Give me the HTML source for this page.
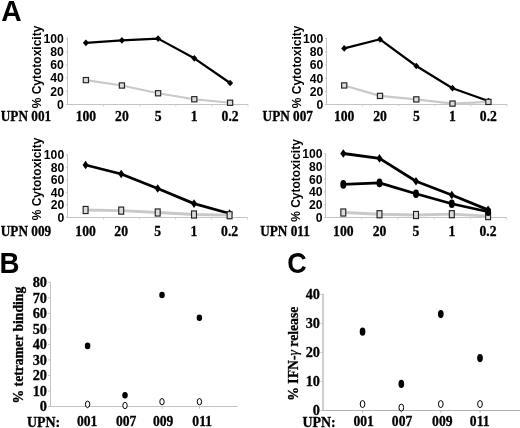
<!DOCTYPE html>
<html><head><meta charset="utf-8"><style>
html,body{margin:0;padding:0;background:#fff;}
svg{display:block;will-change:transform;filter:blur(0.3px);}
</style></head><body>
<svg width="520" height="428" viewBox="0 0 520 428">
<rect width="520" height="428" fill="#fff"/>
<text x="1.1" y="20.7" font-family='"Liberation Sans", sans-serif' font-weight="bold" font-size="29" transform="translate(11.4,0) scale(0.975,1) translate(-11.4,0)">A</text>
<text x="-1.0" y="272.9" font-family='"Liberation Sans", sans-serif' font-weight="bold" font-size="28.8" transform="translate(9.5,0) scale(0.96,1) translate(-9.5,0)">B</text>
<text x="286.4" y="273" font-family='"Liberation Sans", sans-serif' font-weight="bold" font-size="29" transform="translate(297,0) scale(0.93,1) translate(-297,0)">C</text>
<line x1="67.5" y1="37.5" x2="67.5" y2="104.5" stroke="#c4c4c4" stroke-width="1"/>
<line x1="67.5" y1="104.5" x2="248" y2="104.5" stroke="#c4c4c4" stroke-width="1"/>
<line x1="103.60" y1="104.5" x2="103.60" y2="106.5" stroke="#d0d0d0" stroke-width="1"/>
<line x1="139.70" y1="104.5" x2="139.70" y2="106.5" stroke="#d0d0d0" stroke-width="1"/>
<line x1="175.80" y1="104.5" x2="175.80" y2="106.5" stroke="#d0d0d0" stroke-width="1"/>
<line x1="211.90" y1="104.5" x2="211.90" y2="106.5" stroke="#d0d0d0" stroke-width="1"/>
<line x1="248.00" y1="104.5" x2="248.00" y2="106.5" stroke="#d0d0d0" stroke-width="1"/>
<line x1="66.0" y1="104.40" x2="67.5" y2="104.40" stroke="#c4c4c4" stroke-width="1"/>
<text x="63.9" y="108.75" text-anchor="end" font-family='"Liberation Sans", sans-serif' font-weight="bold" font-size="12.2">0</text>
<line x1="66.0" y1="91.25" x2="67.5" y2="91.25" stroke="#c4c4c4" stroke-width="1"/>
<text x="63.9" y="95.60" text-anchor="end" font-family='"Liberation Sans", sans-serif' font-weight="bold" font-size="12.2">20</text>
<line x1="66.0" y1="78.10" x2="67.5" y2="78.10" stroke="#c4c4c4" stroke-width="1"/>
<text x="63.9" y="82.45" text-anchor="end" font-family='"Liberation Sans", sans-serif' font-weight="bold" font-size="12.2">40</text>
<line x1="66.0" y1="64.95" x2="67.5" y2="64.95" stroke="#c4c4c4" stroke-width="1"/>
<text x="63.9" y="69.30" text-anchor="end" font-family='"Liberation Sans", sans-serif' font-weight="bold" font-size="12.2">60</text>
<line x1="66.0" y1="51.80" x2="67.5" y2="51.80" stroke="#c4c4c4" stroke-width="1"/>
<text x="63.9" y="56.15" text-anchor="end" font-family='"Liberation Sans", sans-serif' font-weight="bold" font-size="12.2">80</text>
<line x1="66.0" y1="38.65" x2="67.5" y2="38.65" stroke="#c4c4c4" stroke-width="1"/>
<text x="63.9" y="43.00" text-anchor="end" font-family='"Liberation Sans", sans-serif' font-weight="bold" font-size="12.2">100</text>
<text transform="translate(41.3,67) rotate(-90)" text-anchor="middle" font-family='"Liberation Sans", sans-serif' font-weight="bold" font-size="12">% Cytotoxicity</text>
<text x="85.90" y="121.2" text-anchor="middle" font-family='"Liberation Serif", serif' font-weight="bold" stroke="#000" stroke-width="0.3" font-size="14.4" transform="translate(85.90,0) scale(0.95,1) translate(-85.90,0)">100</text>
<text x="121.90" y="121.2" text-anchor="middle" font-family='"Liberation Serif", serif' font-weight="bold" stroke="#000" stroke-width="0.3" font-size="14.4" transform="translate(121.90,0) scale(0.95,1) translate(-121.90,0)">20</text>
<text x="158.10" y="121.2" text-anchor="middle" font-family='"Liberation Serif", serif' font-weight="bold" stroke="#000" stroke-width="0.3" font-size="14.4" transform="translate(158.10,0) scale(0.95,1) translate(-158.10,0)">5</text>
<text x="194.30" y="121.2" text-anchor="middle" font-family='"Liberation Serif", serif' font-weight="bold" stroke="#000" stroke-width="0.3" font-size="14.4" transform="translate(194.30,0) scale(0.95,1) translate(-194.30,0)">1</text>
<text x="230.10" y="121.2" text-anchor="middle" font-family='"Liberation Serif", serif' font-weight="bold" stroke="#000" stroke-width="0.3" font-size="14.4" transform="translate(230.10,0) scale(0.95,1) translate(-230.10,0)">0.2</text>
<text x="0.8" y="121.2" font-family='"Liberation Serif", serif' font-weight="bold" stroke="#000" stroke-width="0.3" font-size="14.4" transform="translate(0.8,0) scale(0.92,1) translate(-0.8,0)">UPN 001</text>
<polyline points="85.90,42.80 121.90,40.30 158.10,38.60 194.30,58.30 230.10,83.00" fill="none" stroke="#000" stroke-width="2.2" stroke-linejoin="round"/>
<path d="M85.90 39.45 L88.90 42.80 L85.90 46.15 L82.90 42.80Z" fill="#000"/>
<path d="M121.90 36.95 L124.90 40.30 L121.90 43.65 L118.90 40.30Z" fill="#000"/>
<path d="M158.10 35.25 L161.10 38.60 L158.10 41.95 L155.10 38.60Z" fill="#000"/>
<path d="M194.30 54.95 L197.30 58.30 L194.30 61.65 L191.30 58.30Z" fill="#000"/>
<path d="M230.10 79.65 L233.10 83.00 L230.10 86.35 L227.10 83.00Z" fill="#000"/>
<polyline points="85.90,80.10 121.90,85.50 158.10,93.25 194.30,99.25 230.10,102.75" fill="none" stroke="#c9c9c9" stroke-width="2.2" stroke-linejoin="round"/>
<rect x="83.30" y="77.50" width="5.20" height="5.20" fill="#dcdcdc" stroke="#222" stroke-width="1.15"/>
<rect x="119.30" y="82.90" width="5.20" height="5.20" fill="#dcdcdc" stroke="#222" stroke-width="1.15"/>
<rect x="155.50" y="90.65" width="5.20" height="5.20" fill="#dcdcdc" stroke="#222" stroke-width="1.15"/>
<rect x="191.70" y="96.65" width="5.20" height="5.20" fill="#dcdcdc" stroke="#222" stroke-width="1.15"/>
<rect x="227.50" y="100.15" width="5.20" height="5.20" fill="#dcdcdc" stroke="#222" stroke-width="1.15"/>
<line x1="326.5" y1="37.9" x2="326.5" y2="104.5" stroke="#c4c4c4" stroke-width="1"/>
<line x1="326.5" y1="104.5" x2="507" y2="104.5" stroke="#c4c4c4" stroke-width="1"/>
<line x1="362.60" y1="104.5" x2="362.60" y2="106.5" stroke="#d0d0d0" stroke-width="1"/>
<line x1="398.70" y1="104.5" x2="398.70" y2="106.5" stroke="#d0d0d0" stroke-width="1"/>
<line x1="434.80" y1="104.5" x2="434.80" y2="106.5" stroke="#d0d0d0" stroke-width="1"/>
<line x1="470.90" y1="104.5" x2="470.90" y2="106.5" stroke="#d0d0d0" stroke-width="1"/>
<line x1="507.00" y1="104.5" x2="507.00" y2="106.5" stroke="#d0d0d0" stroke-width="1"/>
<line x1="325.0" y1="104.60" x2="326.5" y2="104.60" stroke="#c4c4c4" stroke-width="1"/>
<text x="323.3" y="108.95" text-anchor="end" font-family='"Liberation Sans", sans-serif' font-weight="bold" font-size="12.2">0</text>
<line x1="325.0" y1="91.40" x2="326.5" y2="91.40" stroke="#c4c4c4" stroke-width="1"/>
<text x="323.3" y="95.75" text-anchor="end" font-family='"Liberation Sans", sans-serif' font-weight="bold" font-size="12.2">20</text>
<line x1="325.0" y1="78.20" x2="326.5" y2="78.20" stroke="#c4c4c4" stroke-width="1"/>
<text x="323.3" y="82.55" text-anchor="end" font-family='"Liberation Sans", sans-serif' font-weight="bold" font-size="12.2">40</text>
<line x1="325.0" y1="65.00" x2="326.5" y2="65.00" stroke="#c4c4c4" stroke-width="1"/>
<text x="323.3" y="69.35" text-anchor="end" font-family='"Liberation Sans", sans-serif' font-weight="bold" font-size="12.2">60</text>
<line x1="325.0" y1="51.80" x2="326.5" y2="51.80" stroke="#c4c4c4" stroke-width="1"/>
<text x="323.3" y="56.15" text-anchor="end" font-family='"Liberation Sans", sans-serif' font-weight="bold" font-size="12.2">80</text>
<line x1="325.0" y1="38.60" x2="326.5" y2="38.60" stroke="#c4c4c4" stroke-width="1"/>
<text x="323.3" y="42.95" text-anchor="end" font-family='"Liberation Sans", sans-serif' font-weight="bold" font-size="12.2">100</text>
<text transform="translate(300.5,66.9) rotate(-90)" text-anchor="middle" font-family='"Liberation Sans", sans-serif' font-weight="bold" font-size="12">% Cytotoxicity</text>
<text x="344.20" y="121.2" text-anchor="middle" font-family='"Liberation Serif", serif' font-weight="bold" stroke="#000" stroke-width="0.3" font-size="14.4" transform="translate(344.20,0) scale(0.95,1) translate(-344.20,0)">100</text>
<text x="380.00" y="121.2" text-anchor="middle" font-family='"Liberation Serif", serif' font-weight="bold" stroke="#000" stroke-width="0.3" font-size="14.4" transform="translate(380.00,0) scale(0.95,1) translate(-380.00,0)">20</text>
<text x="416.30" y="121.2" text-anchor="middle" font-family='"Liberation Serif", serif' font-weight="bold" stroke="#000" stroke-width="0.3" font-size="14.4" transform="translate(416.30,0) scale(0.95,1) translate(-416.30,0)">5</text>
<text x="452.50" y="121.2" text-anchor="middle" font-family='"Liberation Serif", serif' font-weight="bold" stroke="#000" stroke-width="0.3" font-size="14.4" transform="translate(452.50,0) scale(0.95,1) translate(-452.50,0)">1</text>
<text x="488.40" y="121.2" text-anchor="middle" font-family='"Liberation Serif", serif' font-weight="bold" stroke="#000" stroke-width="0.3" font-size="14.4" transform="translate(488.40,0) scale(0.95,1) translate(-488.40,0)">0.2</text>
<text x="262.6" y="121.2" font-family='"Liberation Serif", serif' font-weight="bold" stroke="#000" stroke-width="0.3" font-size="14.4" transform="translate(262.6,0) scale(0.92,1) translate(-262.6,0)">UPN 007</text>
<polyline points="344.20,48.40 380.00,39.30 416.30,66.00 452.50,88.20 488.40,101.00" fill="none" stroke="#000" stroke-width="2.2" stroke-linejoin="round"/>
<path d="M344.20 45.05 L347.20 48.40 L344.20 51.75 L341.20 48.40Z" fill="#000"/>
<path d="M380.00 35.95 L383.00 39.30 L380.00 42.65 L377.00 39.30Z" fill="#000"/>
<path d="M416.30 62.65 L419.30 66.00 L416.30 69.35 L413.30 66.00Z" fill="#000"/>
<path d="M452.50 84.85 L455.50 88.20 L452.50 91.55 L449.50 88.20Z" fill="#000"/>
<path d="M488.40 97.65 L491.40 101.00 L488.40 104.35 L485.40 101.00Z" fill="#000"/>
<polyline points="344.20,85.45 380.00,95.90 416.30,99.40 452.50,103.60 488.40,101.90" fill="none" stroke="#c9c9c9" stroke-width="2.2" stroke-linejoin="round"/>
<rect x="341.60" y="82.85" width="5.20" height="5.20" fill="#dcdcdc" stroke="#222" stroke-width="1.15"/>
<rect x="377.40" y="93.30" width="5.20" height="5.20" fill="#dcdcdc" stroke="#222" stroke-width="1.15"/>
<rect x="413.70" y="96.80" width="5.20" height="5.20" fill="#dcdcdc" stroke="#222" stroke-width="1.15"/>
<rect x="449.90" y="101.00" width="5.20" height="5.20" fill="#dcdcdc" stroke="#222" stroke-width="1.15"/>
<rect x="485.80" y="99.30" width="5.20" height="5.20" fill="#dcdcdc" stroke="#222" stroke-width="1.15"/>
<line x1="67.5" y1="154.4" x2="67.5" y2="217.5" stroke="#c4c4c4" stroke-width="1"/>
<line x1="67.5" y1="217.5" x2="247.5" y2="217.5" stroke="#c4c4c4" stroke-width="1"/>
<line x1="103.50" y1="217.5" x2="103.50" y2="219.5" stroke="#d0d0d0" stroke-width="1"/>
<line x1="139.50" y1="217.5" x2="139.50" y2="219.5" stroke="#d0d0d0" stroke-width="1"/>
<line x1="175.50" y1="217.5" x2="175.50" y2="219.5" stroke="#d0d0d0" stroke-width="1"/>
<line x1="211.50" y1="217.5" x2="211.50" y2="219.5" stroke="#d0d0d0" stroke-width="1"/>
<line x1="247.50" y1="217.5" x2="247.50" y2="219.5" stroke="#d0d0d0" stroke-width="1"/>
<line x1="66.0" y1="217.30" x2="67.5" y2="217.30" stroke="#c4c4c4" stroke-width="1"/>
<text x="64.2" y="221.65" text-anchor="end" font-family='"Liberation Sans", sans-serif' font-weight="bold" font-size="12.2">0</text>
<line x1="66.0" y1="204.82" x2="67.5" y2="204.82" stroke="#c4c4c4" stroke-width="1"/>
<text x="64.2" y="209.17" text-anchor="end" font-family='"Liberation Sans", sans-serif' font-weight="bold" font-size="12.2">20</text>
<line x1="66.0" y1="192.34" x2="67.5" y2="192.34" stroke="#c4c4c4" stroke-width="1"/>
<text x="64.2" y="196.69" text-anchor="end" font-family='"Liberation Sans", sans-serif' font-weight="bold" font-size="12.2">40</text>
<line x1="66.0" y1="179.86" x2="67.5" y2="179.86" stroke="#c4c4c4" stroke-width="1"/>
<text x="64.2" y="184.21" text-anchor="end" font-family='"Liberation Sans", sans-serif' font-weight="bold" font-size="12.2">60</text>
<line x1="66.0" y1="167.38" x2="67.5" y2="167.38" stroke="#c4c4c4" stroke-width="1"/>
<text x="64.2" y="171.73" text-anchor="end" font-family='"Liberation Sans", sans-serif' font-weight="bold" font-size="12.2">80</text>
<line x1="66.0" y1="154.90" x2="67.5" y2="154.90" stroke="#c4c4c4" stroke-width="1"/>
<text x="64.2" y="159.25" text-anchor="end" font-family='"Liberation Sans", sans-serif' font-weight="bold" font-size="12.2">100</text>
<text transform="translate(40.8,179) rotate(-90)" text-anchor="middle" font-family='"Liberation Sans", sans-serif' font-weight="bold" font-size="12">% Cytotoxicity</text>
<text x="85.60" y="236.2" text-anchor="middle" font-family='"Liberation Serif", serif' font-weight="bold" stroke="#000" stroke-width="0.3" font-size="14.4" transform="translate(85.60,0) scale(0.95,1) translate(-85.60,0)">100</text>
<text x="121.20" y="236.2" text-anchor="middle" font-family='"Liberation Serif", serif' font-weight="bold" stroke="#000" stroke-width="0.3" font-size="14.4" transform="translate(121.20,0) scale(0.95,1) translate(-121.20,0)">20</text>
<text x="157.70" y="236.2" text-anchor="middle" font-family='"Liberation Serif", serif' font-weight="bold" stroke="#000" stroke-width="0.3" font-size="14.4" transform="translate(157.70,0) scale(0.95,1) translate(-157.70,0)">5</text>
<text x="194.00" y="236.2" text-anchor="middle" font-family='"Liberation Serif", serif' font-weight="bold" stroke="#000" stroke-width="0.3" font-size="14.4" transform="translate(194.00,0) scale(0.95,1) translate(-194.00,0)">1</text>
<text x="229.60" y="236.2" text-anchor="middle" font-family='"Liberation Serif", serif' font-weight="bold" stroke="#000" stroke-width="0.3" font-size="14.4" transform="translate(229.60,0) scale(0.95,1) translate(-229.60,0)">0.2</text>
<text x="0.8" y="236.2" font-family='"Liberation Serif", serif' font-weight="bold" stroke="#000" stroke-width="0.3" font-size="14.4" transform="translate(0.8,0) scale(0.92,1) translate(-0.8,0)">UPN 009</text>
<polyline points="85.60,165.00 121.20,174.00 157.70,188.50 194.00,203.60 229.60,213.50" fill="none" stroke="#000" stroke-width="2.8" stroke-linejoin="round"/>
<path d="M85.60 160.70 L88.60 165.00 L85.60 169.30 L82.60 165.00Z" fill="#000"/>
<path d="M121.20 169.70 L124.20 174.00 L121.20 178.30 L118.20 174.00Z" fill="#000"/>
<path d="M157.70 184.20 L160.70 188.50 L157.70 192.80 L154.70 188.50Z" fill="#000"/>
<path d="M194.00 199.30 L197.00 203.60 L194.00 207.90 L191.00 203.60Z" fill="#000"/>
<path d="M229.60 209.20 L232.60 213.50 L229.60 217.80 L226.60 213.50Z" fill="#000"/>
<polyline points="85.60,210.00 121.20,210.60 157.70,212.50 194.00,214.50 229.60,215.20" fill="none" stroke="#c9c9c9" stroke-width="2.8" stroke-linejoin="round"/>
<rect x="83.15" y="206.45" width="4.90" height="7.10" fill="#dcdcdc" stroke="#222" stroke-width="1.15"/>
<rect x="118.75" y="207.05" width="4.90" height="7.10" fill="#dcdcdc" stroke="#222" stroke-width="1.15"/>
<rect x="155.25" y="208.95" width="4.90" height="7.10" fill="#dcdcdc" stroke="#222" stroke-width="1.15"/>
<rect x="191.55" y="210.95" width="4.90" height="7.10" fill="#dcdcdc" stroke="#222" stroke-width="1.15"/>
<rect x="227.15" y="211.65" width="4.90" height="7.10" fill="#dcdcdc" stroke="#222" stroke-width="1.15"/>
<line x1="325.5" y1="153.4" x2="325.5" y2="217.5" stroke="#c4c4c4" stroke-width="1"/>
<line x1="325.5" y1="217.5" x2="506.5" y2="217.5" stroke="#c4c4c4" stroke-width="1"/>
<line x1="361.70" y1="217.5" x2="361.70" y2="219.5" stroke="#d0d0d0" stroke-width="1"/>
<line x1="397.90" y1="217.5" x2="397.90" y2="219.5" stroke="#d0d0d0" stroke-width="1"/>
<line x1="434.10" y1="217.5" x2="434.10" y2="219.5" stroke="#d0d0d0" stroke-width="1"/>
<line x1="470.30" y1="217.5" x2="470.30" y2="219.5" stroke="#d0d0d0" stroke-width="1"/>
<line x1="506.50" y1="217.5" x2="506.50" y2="219.5" stroke="#d0d0d0" stroke-width="1"/>
<line x1="324.0" y1="217.60" x2="325.5" y2="217.60" stroke="#c4c4c4" stroke-width="1"/>
<text x="322.5" y="221.95" text-anchor="end" font-family='"Liberation Sans", sans-serif' font-weight="bold" font-size="12.2">0</text>
<line x1="324.0" y1="204.80" x2="325.5" y2="204.80" stroke="#c4c4c4" stroke-width="1"/>
<text x="322.5" y="209.15" text-anchor="end" font-family='"Liberation Sans", sans-serif' font-weight="bold" font-size="12.2">20</text>
<line x1="324.0" y1="192.00" x2="325.5" y2="192.00" stroke="#c4c4c4" stroke-width="1"/>
<text x="322.5" y="196.35" text-anchor="end" font-family='"Liberation Sans", sans-serif' font-weight="bold" font-size="12.2">40</text>
<line x1="324.0" y1="179.20" x2="325.5" y2="179.20" stroke="#c4c4c4" stroke-width="1"/>
<text x="322.5" y="183.55" text-anchor="end" font-family='"Liberation Sans", sans-serif' font-weight="bold" font-size="12.2">60</text>
<line x1="324.0" y1="166.40" x2="325.5" y2="166.40" stroke="#c4c4c4" stroke-width="1"/>
<text x="322.5" y="170.75" text-anchor="end" font-family='"Liberation Sans", sans-serif' font-weight="bold" font-size="12.2">80</text>
<line x1="324.0" y1="153.60" x2="325.5" y2="153.60" stroke="#c4c4c4" stroke-width="1"/>
<text x="322.5" y="157.95" text-anchor="end" font-family='"Liberation Sans", sans-serif' font-weight="bold" font-size="12.2">100</text>
<text transform="translate(300,180.5) rotate(-90)" text-anchor="middle" font-family='"Liberation Sans", sans-serif' font-weight="bold" font-size="12">% Cytotoxicity</text>
<text x="343.30" y="236.2" text-anchor="middle" font-family='"Liberation Serif", serif' font-weight="bold" stroke="#000" stroke-width="0.3" font-size="14.4" transform="translate(343.30,0) scale(0.95,1) translate(-343.30,0)">100</text>
<text x="379.50" y="236.2" text-anchor="middle" font-family='"Liberation Serif", serif' font-weight="bold" stroke="#000" stroke-width="0.3" font-size="14.4" transform="translate(379.50,0) scale(0.95,1) translate(-379.50,0)">20</text>
<text x="416.00" y="236.2" text-anchor="middle" font-family='"Liberation Serif", serif' font-weight="bold" stroke="#000" stroke-width="0.3" font-size="14.4" transform="translate(416.00,0) scale(0.95,1) translate(-416.00,0)">5</text>
<text x="451.80" y="236.2" text-anchor="middle" font-family='"Liberation Serif", serif' font-weight="bold" stroke="#000" stroke-width="0.3" font-size="14.4" transform="translate(451.80,0) scale(0.95,1) translate(-451.80,0)">1</text>
<text x="488.10" y="236.2" text-anchor="middle" font-family='"Liberation Serif", serif' font-weight="bold" stroke="#000" stroke-width="0.3" font-size="14.4" transform="translate(488.10,0) scale(0.95,1) translate(-488.10,0)">0.2</text>
<text x="260.2" y="236.2" font-family='"Liberation Serif", serif' font-weight="bold" stroke="#000" stroke-width="0.3" font-size="14.4" transform="translate(260.2,0) scale(0.92,1) translate(-260.2,0)">UPN 011</text>
<polyline points="343.30,153.50 379.50,158.40 416.00,181.25 451.80,195.00 488.10,209.90" fill="none" stroke="#000" stroke-width="2.8" stroke-linejoin="round"/>
<path d="M343.30 149.20 L346.30 153.50 L343.30 157.80 L340.30 153.50Z" fill="#000"/>
<path d="M379.50 154.10 L382.50 158.40 L379.50 162.70 L376.50 158.40Z" fill="#000"/>
<path d="M416.00 176.95 L419.00 181.25 L416.00 185.55 L413.00 181.25Z" fill="#000"/>
<path d="M451.80 190.70 L454.80 195.00 L451.80 199.30 L448.80 195.00Z" fill="#000"/>
<path d="M488.10 205.60 L491.10 209.90 L488.10 214.20 L485.10 209.90Z" fill="#000"/>
<polyline points="343.30,212.50 379.50,214.25 416.00,215.00 451.80,214.20 488.10,216.10" fill="none" stroke="#c9c9c9" stroke-width="2.8" stroke-linejoin="round"/>
<rect x="340.85" y="208.95" width="4.90" height="7.10" fill="#dcdcdc" stroke="#222" stroke-width="1.15"/>
<rect x="377.05" y="210.70" width="4.90" height="7.10" fill="#dcdcdc" stroke="#222" stroke-width="1.15"/>
<rect x="413.55" y="211.45" width="4.90" height="7.10" fill="#dcdcdc" stroke="#222" stroke-width="1.15"/>
<rect x="449.35" y="210.65" width="4.90" height="7.10" fill="#dcdcdc" stroke="#222" stroke-width="1.15"/>
<rect x="485.65" y="212.55" width="4.90" height="7.10" fill="#dcdcdc" stroke="#222" stroke-width="1.15"/>
<polyline points="343.30,184.40 379.50,182.90 416.00,193.75 451.80,203.75 488.10,211.75" fill="none" stroke="#000" stroke-width="2.8" stroke-linejoin="round"/>
<ellipse cx="343.30" cy="184.40" rx="3.00" ry="4.30" fill="#000"/>
<ellipse cx="379.50" cy="182.90" rx="3.00" ry="4.30" fill="#000"/>
<ellipse cx="416.00" cy="193.75" rx="3.00" ry="4.30" fill="#000"/>
<ellipse cx="451.80" cy="203.75" rx="3.00" ry="4.30" fill="#000"/>
<ellipse cx="488.10" cy="211.75" rx="3.00" ry="4.30" fill="#000"/>
<line x1="50.5" y1="282.2" x2="50.5" y2="406.5" stroke="#c4c4c4" stroke-width="1"/>
<line x1="50.0" y1="406.5" x2="237.5" y2="406.5" stroke="#c4c4c4" stroke-width="1"/>
<line x1="87.6" y1="406.5" x2="87.6" y2="408.7" stroke="#c4c4c4" stroke-width="1"/>
<line x1="125" y1="406.5" x2="125" y2="408.7" stroke="#c4c4c4" stroke-width="1"/>
<line x1="162" y1="406.5" x2="162" y2="408.7" stroke="#c4c4c4" stroke-width="1"/>
<line x1="199.4" y1="406.5" x2="199.4" y2="408.7" stroke="#c4c4c4" stroke-width="1"/>
<line x1="48.0" y1="406.50" x2="50.5" y2="406.50" stroke="#c4c4c4" stroke-width="1"/>
<text x="47" y="411.35" text-anchor="end" font-family='"Liberation Serif", serif' font-weight="bold" stroke="#000" stroke-width="0.3" font-size="14.3">0</text>
<line x1="48.0" y1="390.98" x2="50.5" y2="390.98" stroke="#c4c4c4" stroke-width="1"/>
<text x="47" y="395.83" text-anchor="end" font-family='"Liberation Serif", serif' font-weight="bold" stroke="#000" stroke-width="0.3" font-size="14.3">10</text>
<line x1="48.0" y1="375.45" x2="50.5" y2="375.45" stroke="#c4c4c4" stroke-width="1"/>
<text x="47" y="380.30" text-anchor="end" font-family='"Liberation Serif", serif' font-weight="bold" stroke="#000" stroke-width="0.3" font-size="14.3">20</text>
<line x1="48.0" y1="359.93" x2="50.5" y2="359.93" stroke="#c4c4c4" stroke-width="1"/>
<text x="47" y="364.78" text-anchor="end" font-family='"Liberation Serif", serif' font-weight="bold" stroke="#000" stroke-width="0.3" font-size="14.3">30</text>
<line x1="48.0" y1="344.40" x2="50.5" y2="344.40" stroke="#c4c4c4" stroke-width="1"/>
<text x="47" y="349.25" text-anchor="end" font-family='"Liberation Serif", serif' font-weight="bold" stroke="#000" stroke-width="0.3" font-size="14.3">40</text>
<line x1="48.0" y1="328.88" x2="50.5" y2="328.88" stroke="#c4c4c4" stroke-width="1"/>
<text x="47" y="333.73" text-anchor="end" font-family='"Liberation Serif", serif' font-weight="bold" stroke="#000" stroke-width="0.3" font-size="14.3">50</text>
<line x1="48.0" y1="313.35" x2="50.5" y2="313.35" stroke="#c4c4c4" stroke-width="1"/>
<text x="47" y="318.20" text-anchor="end" font-family='"Liberation Serif", serif' font-weight="bold" stroke="#000" stroke-width="0.3" font-size="14.3">60</text>
<line x1="48.0" y1="297.82" x2="50.5" y2="297.82" stroke="#c4c4c4" stroke-width="1"/>
<text x="47" y="302.68" text-anchor="end" font-family='"Liberation Serif", serif' font-weight="bold" stroke="#000" stroke-width="0.3" font-size="14.3">70</text>
<line x1="48.0" y1="282.30" x2="50.5" y2="282.30" stroke="#c4c4c4" stroke-width="1"/>
<text x="47" y="287.15" text-anchor="end" font-family='"Liberation Serif", serif' font-weight="bold" stroke="#000" stroke-width="0.3" font-size="14.3">80</text>
<text transform="translate(22.5,345.1) rotate(-90)" text-anchor="middle" font-family='"Liberation Serif", serif' font-weight="bold" stroke="#000" stroke-width="0.3" font-size="13.7">% tetramer binding</text>
<text x="87.10" y="426.2" text-anchor="middle" font-family='"Liberation Serif", serif' font-weight="bold" stroke="#000" stroke-width="0.3" font-size="14.2" transform="translate(87.10,0) scale(0.96,1) translate(-87.10,0)">001</text>
<text x="126.10" y="426.2" text-anchor="middle" font-family='"Liberation Serif", serif' font-weight="bold" stroke="#000" stroke-width="0.3" font-size="14.2" transform="translate(126.10,0) scale(0.96,1) translate(-126.10,0)">007</text>
<text x="163.10" y="426.2" text-anchor="middle" font-family='"Liberation Serif", serif' font-weight="bold" stroke="#000" stroke-width="0.3" font-size="14.2" transform="translate(163.10,0) scale(0.96,1) translate(-163.10,0)">009</text>
<text x="202.20" y="426.2" text-anchor="middle" font-family='"Liberation Serif", serif' font-weight="bold" stroke="#000" stroke-width="0.3" font-size="14.2" transform="translate(202.20,0) scale(0.96,1) translate(-202.20,0)">011</text>
<text x="27" y="427.3" font-family='"Liberation Serif", serif' font-weight="bold" stroke="#000" stroke-width="0.3" font-size="14.3" transform="translate(27,0) scale(0.975,1) translate(-27,0)">UPN:</text>
<ellipse cx="87.60" cy="404.30" rx="2.20" ry="3.15" fill="#fff" stroke="#000" stroke-width="1.0"/>
<ellipse cx="125.00" cy="405.50" rx="2.20" ry="3.15" fill="#fff" stroke="#000" stroke-width="1.0"/>
<ellipse cx="162.00" cy="401.70" rx="2.20" ry="3.15" fill="#fff" stroke="#000" stroke-width="1.0"/>
<ellipse cx="199.40" cy="401.70" rx="2.20" ry="3.15" fill="#fff" stroke="#000" stroke-width="1.0"/>
<ellipse cx="87.60" cy="345.90" rx="2.75" ry="3.30" fill="#000"/>
<ellipse cx="125.00" cy="395.20" rx="2.75" ry="3.30" fill="#000"/>
<ellipse cx="162.00" cy="295.00" rx="2.75" ry="3.30" fill="#000"/>
<ellipse cx="199.40" cy="317.80" rx="2.75" ry="3.30" fill="#000"/>
<line x1="323" y1="293.8" x2="323" y2="410.5" stroke="#cfcfcf" stroke-width="2"/>
<line x1="322.0" y1="410.5" x2="520" y2="410.5" stroke="#b0b0b0" stroke-width="1.2"/>
<line x1="362.55" y1="410.5" x2="362.55" y2="412.7" stroke="#b0b0b0" stroke-width="1"/>
<line x1="401.3" y1="410.5" x2="401.3" y2="412.7" stroke="#b0b0b0" stroke-width="1"/>
<line x1="440.8" y1="410.5" x2="440.8" y2="412.7" stroke="#b0b0b0" stroke-width="1"/>
<line x1="480" y1="410.5" x2="480" y2="412.7" stroke="#b0b0b0" stroke-width="1"/>
<line x1="320.5" y1="410.50" x2="323" y2="410.50" stroke="#c4c4c4" stroke-width="1"/>
<text x="320" y="415.35" text-anchor="end" font-family='"Liberation Serif", serif' font-weight="bold" stroke="#000" stroke-width="0.3" font-size="14.3">0</text>
<line x1="320.5" y1="381.48" x2="323" y2="381.48" stroke="#c4c4c4" stroke-width="1"/>
<text x="320" y="386.33" text-anchor="end" font-family='"Liberation Serif", serif' font-weight="bold" stroke="#000" stroke-width="0.3" font-size="14.3">10</text>
<line x1="320.5" y1="352.45" x2="323" y2="352.45" stroke="#c4c4c4" stroke-width="1"/>
<text x="320" y="357.30" text-anchor="end" font-family='"Liberation Serif", serif' font-weight="bold" stroke="#000" stroke-width="0.3" font-size="14.3">20</text>
<line x1="320.5" y1="323.42" x2="323" y2="323.42" stroke="#c4c4c4" stroke-width="1"/>
<text x="320" y="328.27" text-anchor="end" font-family='"Liberation Serif", serif' font-weight="bold" stroke="#000" stroke-width="0.3" font-size="14.3">30</text>
<line x1="320.5" y1="294.40" x2="323" y2="294.40" stroke="#c4c4c4" stroke-width="1"/>
<text x="320" y="299.25" text-anchor="end" font-family='"Liberation Serif", serif' font-weight="bold" stroke="#000" stroke-width="0.3" font-size="14.3">40</text>
<text transform="translate(297.8,353.7) rotate(-90)" text-anchor="middle" font-family='"Liberation Serif", serif' font-weight="bold" stroke="#000" stroke-width="0.3" font-size="13.7">% IFN-<tspan font-style="italic" font-weight="normal">γ</tspan> release</text>
<text x="363.65" y="426.3" text-anchor="middle" font-family='"Liberation Serif", serif' font-weight="bold" stroke="#000" stroke-width="0.3" font-size="14.2" transform="translate(363.65,0) scale(0.96,1) translate(-363.65,0)">001</text>
<text x="402.05" y="426.3" text-anchor="middle" font-family='"Liberation Serif", serif' font-weight="bold" stroke="#000" stroke-width="0.3" font-size="14.2" transform="translate(402.05,0) scale(0.96,1) translate(-402.05,0)">007</text>
<text x="442.30" y="426.3" text-anchor="middle" font-family='"Liberation Serif", serif' font-weight="bold" stroke="#000" stroke-width="0.3" font-size="14.2" transform="translate(442.30,0) scale(0.96,1) translate(-442.30,0)">009</text>
<text x="479.70" y="426.3" text-anchor="middle" font-family='"Liberation Serif", serif' font-weight="bold" stroke="#000" stroke-width="0.3" font-size="14.2" transform="translate(479.70,0) scale(0.96,1) translate(-479.70,0)">011</text>
<text x="302.5" y="427.3" font-family='"Liberation Serif", serif' font-weight="bold" stroke="#000" stroke-width="0.3" font-size="14.3" transform="translate(302.5,0) scale(0.975,1) translate(-302.5,0)">UPN:</text>
<ellipse cx="362.55" cy="404.05" rx="2.35" ry="3.50" fill="#fff" stroke="#000" stroke-width="1.0"/>
<ellipse cx="401.30" cy="407.60" rx="2.35" ry="3.50" fill="#fff" stroke="#000" stroke-width="1.0"/>
<ellipse cx="440.80" cy="404.05" rx="2.35" ry="3.50" fill="#fff" stroke="#000" stroke-width="1.0"/>
<ellipse cx="480.00" cy="404.05" rx="2.35" ry="3.50" fill="#fff" stroke="#000" stroke-width="1.0"/>
<ellipse cx="362.55" cy="331.70" rx="2.85" ry="4.10" fill="#000"/>
<ellipse cx="401.30" cy="383.90" rx="2.85" ry="4.10" fill="#000"/>
<ellipse cx="440.80" cy="314.10" rx="2.85" ry="4.10" fill="#000"/>
<ellipse cx="480.00" cy="358.05" rx="2.85" ry="4.10" fill="#000"/>
</svg>
</body></html>
